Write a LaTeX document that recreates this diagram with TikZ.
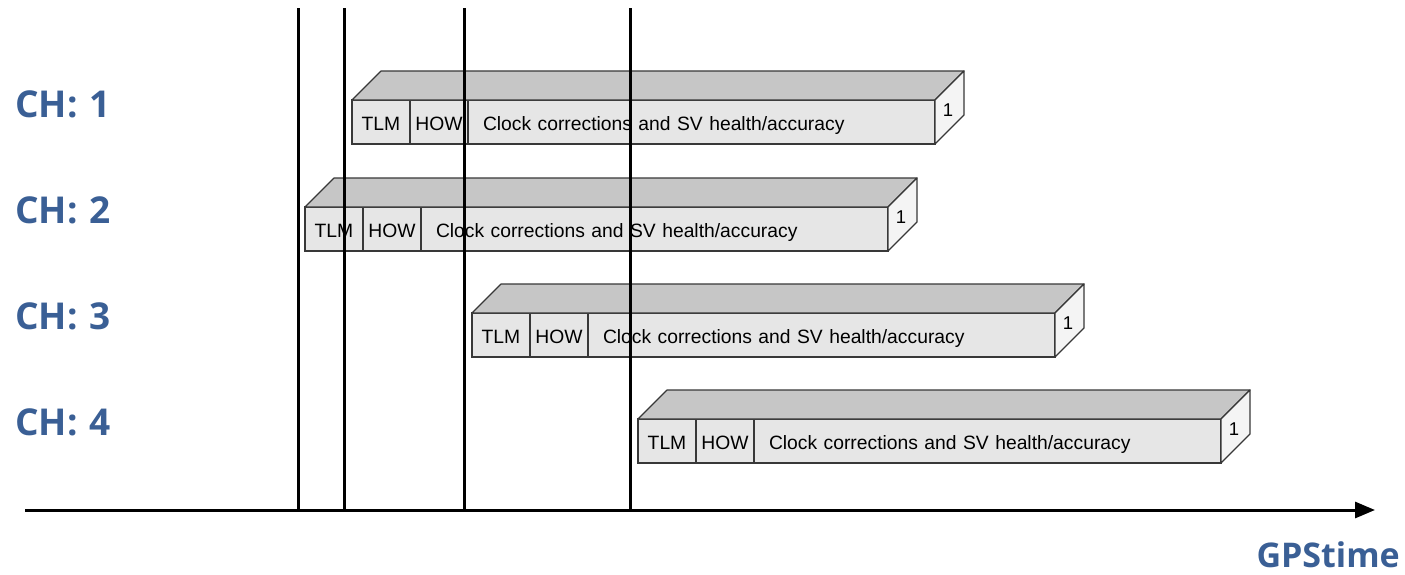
\documentclass[tikz,border=0pt]{standalone}
\usepackage{fontspec}
\setmainfont{Liberation Sans}
\newfontfamily\labelfont{Open Sans}
\usetikzlibrary{arrows.meta}

\definecolor{chblue}{HTML}{3A5F95}
\definecolor{topgray}{HTML}{C6C6C6}
\definecolor{frontgray}{HTML}{E6E6E6}
\definecolor{sidegray}{HTML}{F4F4F4}
\definecolor{edgegray}{HTML}{383838}

\tikzset{
  cell/.style={draw=edgegray, line width=1.2pt, fill=frontgray, minimum height=44pt,
    inner xsep=0pt, inner ysep=0pt, outer sep=0pt, anchor=north west,
    text height=17pt, text depth=0pt, font=\fontsize{19.3}{21}\selectfont},
  face/.style={draw=edgegray, line width=1.2pt, line join=round},
  chlabel/.style={text=chblue, font=\labelfont\bfseries\fontsize{37}{40}\selectfont, anchor=base west, inner sep=0pt},
  marker/.style={line width=3pt},
}

% one navigation subframe: name, x and y of the front face's upper left corner
\newcommand{\navframe}[3]{%
  \node[cell, minimum width=58pt] (#1tlm) at (#2,#3) {TLM};
  \node[cell, minimum width=58pt] (#1how) at (#1tlm.north east) {HOW};
  \node[cell, text width=437pt, inner xsep=15pt, align=left] (#1clk) at (#1how.north east)
    {Clock corrections and SV health/accuracy};
  \draw[face, fill=topgray] (#1tlm.north west) -- ++(29,-29) -- ++(583,0)
    -- (#1clk.north east) -- cycle;
  \draw[face, fill=sidegray] (#1clk.north east) -- ++(29,-29) -- ++(0,44)
    -- (#1clk.south east) -- cycle;
  \node[font=\fontsize{18.5}{20}\selectfont, inner sep=0pt, anchor=base] (#1num)
    at ([shift={(13,16)}]#1clk.north east) {1};
}

\begin{document}
\begin{tikzpicture}[x=1pt, y=-1pt]
  \useasboundingbox[fill=white] (0,0) rectangle (1405,574);

  % channel labels
  \node[chlabel] (ch1) at (15,117) {CH:\,\,1};
  \node[chlabel] (ch2) at (15,223) {CH:\,\,2};
  \node[chlabel] (ch3) at (15,329) {CH:\,\,3};
  \node[chlabel] (ch4) at (15,435) {CH:\,\,4};

  % subframes received on each channel
  \navframe{a}{352}{100}
  \navframe{b}{305}{207}
  \navframe{c}{472}{313}
  \navframe{d}{638}{419}

  % time axis
  \coordinate (axl) at (25,510);
  \coordinate (axr) at (1375,510);
  \draw[line width=3pt, -{Triangle[length=20pt, width=16pt]}] (axl) -- (axr);
  \node[text=chblue, font=\labelfont\bfseries\fontsize{34}{36}\selectfont, anchor=base east, inner sep=0pt]
    (gps) at (1400,567) {GPStime};

  % reception instants
  \foreach \i/\x in {1/298, 2/344, 3/464, 4/630} {
    \coordinate (m\i top) at (\x,8);
    \coordinate (m\i bot) at (\x,510);
    \draw[marker] (m\i top) -- (m\i bot);
  }
\end{tikzpicture}
\end{document}
